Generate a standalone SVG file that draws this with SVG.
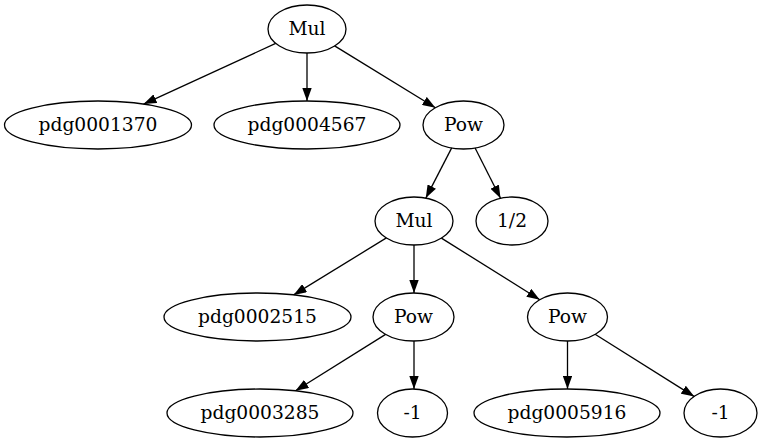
<svg xmlns="http://www.w3.org/2000/svg" width="762" height="443" viewBox="0 0 762 443">
<style>
.n ellipse{fill:none;stroke:#000;stroke-width:1.3}
.n text{font-family:"DejaVu Serif","Liberation Serif",serif;font-size:18.67px;text-anchor:middle;fill:#000}
.e line{stroke:#000;stroke-width:1.3}
</style>
<defs>
<marker id="a" viewBox="0 0 13 9.4" refX="13" refY="4.7" markerWidth="13" markerHeight="9.4" markerUnits="userSpaceOnUse" orient="auto">
<path d="M0,0 L13,4.7 L0,9.4 Z" fill="#000"/>
</marker>
</defs>
<rect width="762" height="443" fill="#fff"/>
<g id="edges" class="e">
<line x1="275.7" y1="43.4" x2="143.6" y2="104.1" marker-end="url(#a)"/>
<line x1="307" y1="53" x2="307" y2="101" marker-end="url(#a)"/>
<line x1="334.6" y1="45.9" x2="435.4" y2="107.7" marker-end="url(#a)"/>
<line x1="451.7" y1="147.9" x2="425.8" y2="198.1" marker-end="url(#a)"/>
<line x1="475.1" y1="148" x2="500.5" y2="198.3" marker-end="url(#a)"/>
<line x1="386.4" y1="237.9" x2="293.6" y2="294.9" marker-end="url(#a)"/>
<line x1="414" y1="245" x2="414" y2="293" marker-end="url(#a)"/>
<line x1="441.4" y1="238.1" x2="539.8" y2="299.7" marker-end="url(#a)"/>
<line x1="385.6" y1="334.4" x2="295.5" y2="390.8" marker-end="url(#a)"/>
<line x1="414" y1="341" x2="414" y2="389" marker-end="url(#a)"/>
<line x1="567.5" y1="341" x2="567.5" y2="389" marker-end="url(#a)"/>
<line x1="595.1" y1="334.3" x2="694.3" y2="396.6" marker-end="url(#a)"/>
</g>
<g id="mul1" class="n"><ellipse cx="307" cy="29" rx="39" ry="24"/><text x="307" y="34.5">Mul</text></g>
<g id="pdg0001370" class="n"><ellipse cx="98" cy="125" rx="93.5" ry="24"/><text x="98" y="130.5">pdg0001370</text></g>
<g id="pdg0004567" class="n"><ellipse cx="307" cy="125" rx="93" ry="24"/><text x="307" y="130.5">pdg0004567</text></g>
<g id="pow1" class="n"><ellipse cx="463.5" cy="125" rx="40.5" ry="24"/><text x="463.5" y="130.5">Pow</text></g>
<g id="mul2" class="n"><ellipse cx="414" cy="221" rx="39" ry="24"/><text x="414" y="226.5">Mul</text></g>
<g id="half" class="n"><ellipse cx="512" cy="221" rx="36" ry="24"/><text x="512" y="226.5">1/2</text></g>
<g id="pdg0002515" class="n"><ellipse cx="257.5" cy="317" rx="93.5" ry="24"/><text x="257.5" y="322.5">pdg0002515</text></g>
<g id="pow2" class="n"><ellipse cx="413.5" cy="317" rx="40.5" ry="24"/><text x="413.5" y="322.5">Pow</text></g>
<g id="pow3" class="n"><ellipse cx="567.5" cy="317" rx="40" ry="24"/><text x="567.5" y="322.5">Pow</text></g>
<g id="pdg0003285" class="n"><ellipse cx="260" cy="413" rx="93" ry="24"/><text x="260" y="418.5">pdg0003285</text></g>
<g id="neg1a" class="n"><ellipse cx="412.5" cy="413" rx="35" ry="24"/><text x="412.5" y="418.5">-1</text></g>
<g id="pdg0005916" class="n"><ellipse cx="567" cy="413" rx="93" ry="24"/><text x="567" y="418.5">pdg0005916</text></g>
<g id="neg1b" class="n"><ellipse cx="720.5" cy="413" rx="36.5" ry="24"/><text x="720.5" y="418.5">-1</text></g>
</svg>
